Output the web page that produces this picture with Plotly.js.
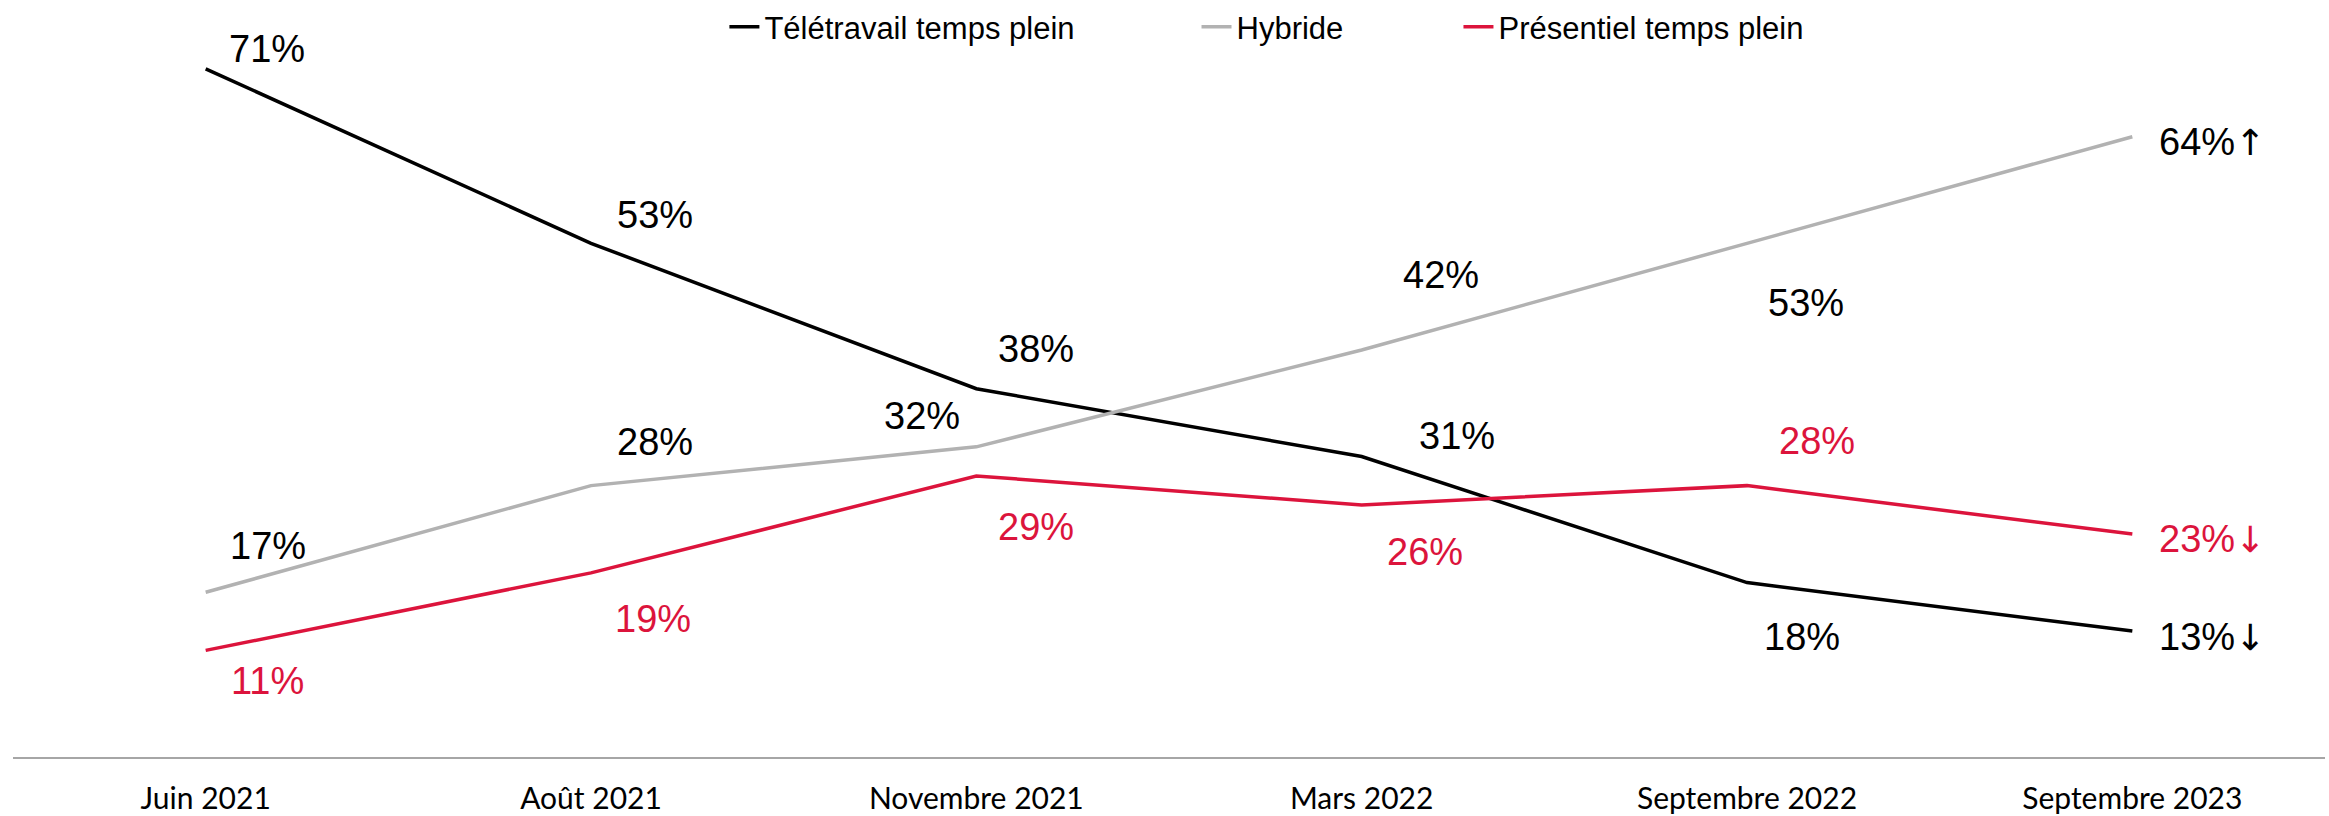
<!DOCTYPE html>
<html>
<head>
<meta charset="utf-8">
<script src="https://cdn.plot.ly/plotly-3.0.1.min.js"></script>
<style>
  html, body { margin: 0; padding: 0; background: #fff; }
  #chart { width: 2329px; height: 816px; }
</style>
</head>
<body>
<div id="chart"></div>
<script>
const categories  = ['Juin 2021', 'Août 2021', 'Novembre 2021', 'Mars 2022', 'Septembre 2022', 'Septembre 2023']
const teletravail = [71, 53, 38, 31, 18, 13]
const hybride     = [17, 28, 32, 42, 53, 64]
const presentiel  = [11, 19, 29, 26, 28, 23]
const endArrows   = { teletravail: '↓', hybride: '↑', presentiel: '↓' }

const black_line  = { color: '#000000', width: 3.5 }
const gray_line   = { color: '#b2b2b2', width: 3.5 }
const red_line    = { color: '#dc143c', width: 3.5 }
const label_font  = { family: 'Liberation Sans, Arial, sans-serif', size: 38 }
const legend_font = { family: 'Liberation Sans, Arial, sans-serif', size: 31, color: '#000' }

// label offsets in px [dx, dy] (dy down), last point gets the arrow label
const shiftBlack = [[61, -20], [64, -28], [60, -40], [95, -21], [55, 54], [25, 6]]
const shiftGray  = [[62, -46], [64, -44], [-54, -31], [79, -75], [59, 60], [25, 5]]
const shiftRed   = [[62, 31], [62, 46], [60, 51], [63, 47], [70, -45], [25, 5]]

const makeTrace = (name, values, line, legendId) => ({
    x: categories,
    y: values,
    name: name,
    type: 'scatter',
    mode: 'lines',
    line: line,
    legend: legendId,
    hoverinfo: 'skip'
})

const arrowSpan = (a) => '<span style="font-family:DejaVu Sans;font-size:36px">' + a + '</span>'

const makeLabels = (values, shifts, color, arrow) => values.map((v, i) => {
    const last = i === values.length - 1
    return {
        x: categories[i],
        y: v,
        xref: 'x',
        yref: 'y',
        text: v + '%' + (last ? arrowSpan(arrow) : ''),
        showarrow: false,
        xanchor: last ? 'left' : 'center',
        yanchor: 'middle',
        xshift: shifts[i][0],
        yshift: -shifts[i][1],
        font: Object.assign({}, label_font, { color: color })
    }
})

const data = [
    makeTrace('Télétravail temps plein', teletravail, black_line, 'legend'),
    makeTrace('Hybride', hybride, gray_line, 'legend2'),
    makeTrace('Présentiel temps plein', presentiel, red_line, 'legend3')
]

const annotations = [
    ...makeLabels(teletravail, shiftBlack, '#000000', endArrows.teletravail),
    ...makeLabels(hybride, shiftGray, '#000000', endArrows.hybride),
    ...makeLabels(presentiel, shiftRed, red_line.color, endArrows.presentiel)
]

// legends sit inside the plot area so they do not push the top margin
const legendBase = {
    orientation: 'h',
    xanchor: 'left',
    yanchor: 'middle',
    y: 0.967,
    bgcolor: 'rgba(0,0,0,0)',
    font: legend_font,
    itemclick: false
}

const layout = {
    width: 2329,
    height: 816,
    margin: { l: 13, r: 4, t: 0, b: 59 },
    paper_bgcolor: '#ffffff',
    plot_bgcolor: '#ffffff',
    showlegend: true,
    legend:  Object.assign({}, legendBase, { x: 0.3077 }),
    legend2: Object.assign({}, legendBase, { x: 0.5119 }),
    legend3: Object.assign({}, legendBase, { x: 0.6252 }),
    xaxis: {
        type: 'category',
        range: [-0.5, 5.5],
        showgrid: false,
        zeroline: false,
        showline: true,
        linecolor: '#a6a6a6',
        linewidth: 2,
        ticks: '',
        ticklabelstandoff: 14,
        tickfont: { family: 'Lato, Open Sans, sans-serif', size: 30, color: '#000' },
        fixedrange: true
    },
    yaxis: {
        range: [0, 77.9],
        visible: false,
        fixedrange: true
    },
    annotations: annotations
}

Plotly.newPlot('chart', data, layout, { staticPlot: true, displayModeBar: false })
</script>
</body>
</html>
